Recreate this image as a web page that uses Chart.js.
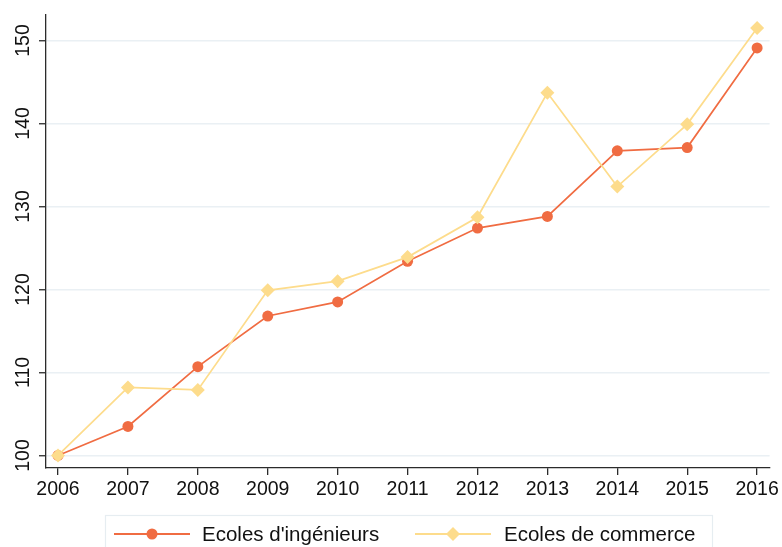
<!DOCTYPE html>
<html>
<head>
<meta charset="utf-8">
<script src="https://cdn.jsdelivr.net/npm/chart.js@4"></script>
<style>
  html, body { margin: 0; padding: 0; background: #fff; }
  #wrap { width: 782px; height: 547px; }
</style>
</head>
<body>
<div id="wrap"><canvas id="myChart" width="782" height="547"></canvas></div>
<script>
const years = [2006, 2007, 2008, 2009, 2010, 2011, 2012, 2013, 2014, 2015, 2016];
const ingenieurs = [100, 103.5, 110.7, 116.8, 118.5, 123.4, 127.4, 128.8, 136.7, 137.1, 149.1];
const commerce = [100, 108.2, 107.9, 119.9, 121.0, 123.9, 128.7, 143.7, 132.4, 139.9, 151.5];
const yTicks = [100, 110, 120, 130, 140, 150];
const seriesNames = ["Ecoles d'ingénieurs", "Ecoles de commerce"];

const orange = 'rgb(240,108,66)';
const yellow = 'rgb(253,220,140)';
const axisColor = '#2b2b2b';
const font = '"Liberation Sans", Arial, Helvetica, sans-serif';

// y labels are drawn rotated, like the original
const yLabelsPlugin = {
  id: 'yLabels',
  afterDraw(chart) {
    const ctx = chart.ctx;
    const y = chart.scales.y;
    ctx.save();
    ctx.fillStyle = '#111';
    ctx.font = '19.5px ' + font;
    ctx.textAlign = 'center';
    ctx.textBaseline = 'alphabetic';
    yTicks.forEach(v => {
      ctx.save();
      ctx.translate(28.5, y.getPixelForValue(v));
      ctx.rotate(-Math.PI / 2);
      ctx.fillText(String(v), 0, 0);
      ctx.restore();
    });
    ctx.restore();
  }
};

// boxed legend with line + marker keys
const legendBoxPlugin = {
  id: 'legendBox',
  afterDraw(chart) {
    const ctx = chart.ctx;
    ctx.save();
    ctx.strokeStyle = '#e6edf1';
    ctx.lineWidth = 1.2;
    ctx.strokeRect(105.5, 515.5, 607, 50);

    const rowY = 534;
    const keys = [
      {x0: 114, x1: 190, color: orange, style: 'circle', r: 5.5, tx: 202},
      {x0: 415, x1: 491, color: yellow, style: 'rectRot', r: 7, tx: 504}
    ];
    keys.forEach((k, i) => {
      ctx.strokeStyle = k.color;
      ctx.lineWidth = 1.8;
      ctx.beginPath();
      ctx.moveTo(k.x0, rowY);
      ctx.lineTo(k.x1, rowY);
      ctx.stroke();
      ctx.fillStyle = k.color;
      Chart.helpers.drawPoint(ctx, {pointStyle: k.style, radius: k.r, borderWidth: 0}, (k.x0 + k.x1) / 2, rowY);
      ctx.fillStyle = '#111';
      ctx.font = '20.5px ' + font;
      ctx.textAlign = 'left';
      ctx.textBaseline = 'alphabetic';
      ctx.fillText(seriesNames[i], k.tx, 541);
    });
    ctx.restore();
  }
};

const ctx = document.getElementById('myChart').getContext('2d');

new Chart(ctx, {
  type: 'line',
  data: {
    datasets: [{
      label: seriesNames[0],
      data: years.map((x, i) => ({x: x, y: ingenieurs[i]})),
      borderColor: orange,
      backgroundColor: orange,
      borderWidth: 1.7,
      pointStyle: 'circle',
      pointRadius: 5.5,
      pointBorderWidth: 0,
      fill: false,
      tension: 0,
      order: 1
    }, {
      label: seriesNames[1],
      data: years.map((x, i) => ({x: x, y: commerce[i]})),
      borderColor: yellow,
      backgroundColor: yellow,
      borderWidth: 1.7,
      pointStyle: 'rectRot',
      pointRadius: 7,
      pointBorderWidth: 0,
      fill: false,
      tension: 0,
      order: 0
    }]
  },
  options: {
    responsive: false,
    animation: false,
    devicePixelRatio: 1,
    layout: { padding: { top: 15, right: 12, bottom: 39, left: 0 } },
    plugins: {
      legend: { display: false },
      tooltip: { enabled: false }
    },
    scales: {
      x: {
        type: 'linear',
        min: 2005.828,
        max: 2016.179,
        afterBuildTicks: s => { s.ticks = years.map(v => ({value: v})); },
        afterFit: s => { s.height = 40; },
        border: { color: axisColor, width: 1.3 },
        grid: { drawOnChartArea: false, drawTicks: true, tickLength: 7, color: axisColor, lineWidth: 1.3 },
        ticks: {
          color: '#111',
          font: { family: font, size: 19.5 },
          padding: 3,
          maxRotation: 0,
          callback: v => String(v)
        }
      },
      y: {
        min: 98.49,
        max: 153.07,
        afterBuildTicks: s => { s.ticks = yTicks.map(v => ({value: v})); },
        afterFit: s => { s.width = 46; },
        border: { color: axisColor, width: 1.3 },
        grid: { color: '#eaf0f4', lineWidth: 1.5, drawTicks: true, tickLength: 7, tickColor: axisColor, tickWidth: 1.3 },
        ticks: { color: 'rgba(0,0,0,0)', font: { family: font, size: 19 }, padding: 2 }
      }
    }
  },
  plugins: [yLabelsPlugin, legendBoxPlugin]
});
</script>
</body>
</html>
